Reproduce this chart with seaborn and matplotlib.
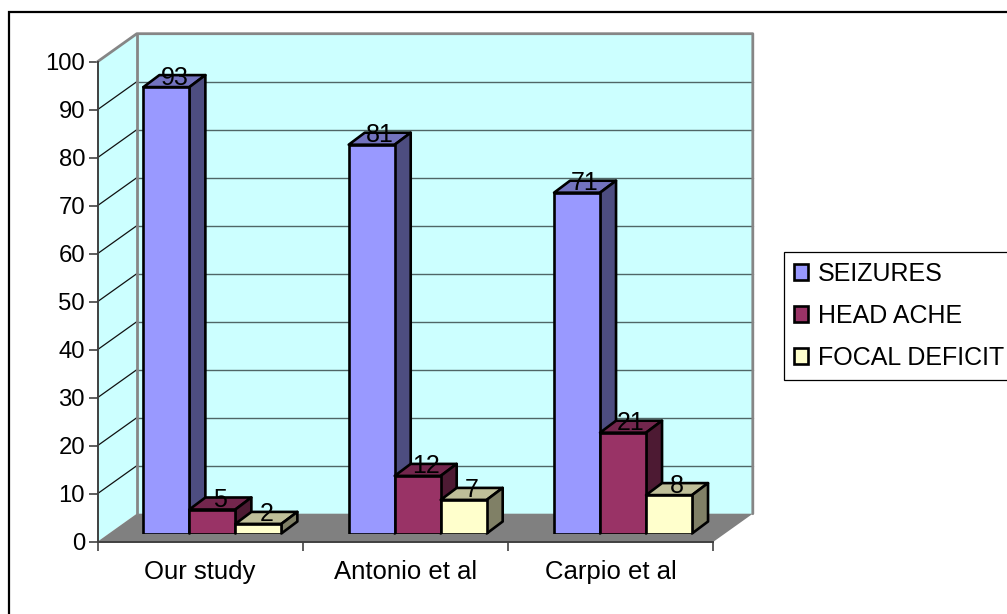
import matplotlib
matplotlib.use("Agg")
import matplotlib.pyplot as plt
from matplotlib.lines import Line2D
from matplotlib.patches import Polygon
from matplotlib.colors import to_rgb
import pandas as pd
import seaborn as sns

studies = ["Our study", "Antonio et al", "Carpio et al"]
seizures = [93, 81, 71]
head_ache = [5, 12, 21]
focal_deficit = [2, 7, 8]
series_names = ["SEIZURES", "HEAD ACHE", "FOCAL DEFICIT"]
series_colors = ["#9999FF", "#993366", "#FFFFCC"]
y_ticks = list(range(0, 101, 10))

W, H = 1007, 614
TICK_FONT = 17.2
CAT_FONT = 18.5
LEGEND_FONT = 18.0
VALUE_FONT = 18.0
EDGE = 1.9

sns.set_theme(style="white")
plt.rcParams["font.family"] = ["Liberation Sans", "DejaVu Sans"]

df = pd.DataFrame({
    "study": studies * 3,
    "series": [n for n in series_names for _ in studies],
    "value": seizures + head_ache + focal_deficit,
})

fig = plt.figure(figsize=(W / 100, H / 100), dpi=100, facecolor="white")


def axes_box(left, top, right, bottom):
    return [left / W, 1 - bottom / H, (right - left) / W, (bottom - top) / H]


# Front plane of the 3-D box carries the axis lines and labels
L, R, T, B = 97.5, 713.5, 61.7, 541.7
ax = fig.add_axes(axes_box(L, T, R, B))
ax.set_xlim(-0.5, 2.5)
ax.set_ylim(0, 100)
ax.patch.set_visible(False)

px_x = (R - L) / 3          # pixels per category
px_y = (B - T) / 100        # pixels per value unit
wall_dx, wall_dy = 39.3 / px_x, 28.0 / px_y   # depth of the box
x0, x1 = -0.5, 2.5

# Left wall, back wall and floor
ax.add_patch(Polygon([(x0, 0), (x0 + wall_dx, wall_dy), (x0 + wall_dx, 100 + wall_dy), (x0, 100)],
                     fc="#CCFFFF", ec="none", clip_on=False, zorder=0))
ax.add_patch(Polygon([(x0 + wall_dx, wall_dy), (x1 + wall_dx, wall_dy), (x1 + wall_dx, 100 + wall_dy),
                      (x0 + wall_dx, 100 + wall_dy)],
                     fc="#CCFFFF", ec="none", clip_on=False, zorder=0))
ax.add_patch(Polygon([(x0, 0), (x0 + wall_dx, wall_dy), (x1 + wall_dx, wall_dy), (x1, 0)],
                     fc="#808080", ec="none", clip_on=False, zorder=1))

# Gridlines wrap from the left wall onto the back wall
for v in y_ticks[1:-1]:
    ax.add_line(Line2D([x0, x0 + wall_dx], [v, v + wall_dy], color="#111111", lw=0.9,
                       clip_on=False, zorder=1))
    ax.add_line(Line2D([x0 + wall_dx, x1 + wall_dx], [v + wall_dy, v + wall_dy], color="#4F6666",
                       lw=1.0, clip_on=False, zorder=1))

# Grey outline of the walls
ax.add_line(Line2D([x0, x0 + wall_dx, x1 + wall_dx, x1 + wall_dx],
                   [100, 100 + wall_dy, 100 + wall_dy, wall_dy],
                   color="#868686", lw=2.0, clip_on=False, zorder=1.5))
ax.add_line(Line2D([x0 + wall_dx, x0 + wall_dx], [wall_dy, 100 + wall_dy],
                   color="#868686", lw=2.0, clip_on=False, zorder=1.5))

for side in ("top", "right"):
    ax.spines[side].set_visible(False)
for side in ("left", "bottom"):
    ax.spines[side].set_color("#404040")
    ax.spines[side].set_linewidth(1.4)
    ax.spines[side].set_zorder(2)

ax.set_yticks(y_ticks)
ax.set_xticks([-0.5, 0.5, 1.5, 2.5])
ax.set_xticklabels([])
ax.set_xticks([0, 1, 2], labels=studies, minor=True)
ax.tick_params(axis="y", which="major", direction="out", length=6.5, width=1.3, color="#505050",
               labelsize=TICK_FONT, labelcolor="black", pad=2.5, left=True)
ax.tick_params(axis="x", which="major", direction="out", length=6.5, width=1.3, color="#505050", bottom=True)
ax.tick_params(axis="x", which="minor", length=0, labelsize=CAT_FONT, labelcolor="black", pad=13, bottom=False)
ax.set_xlabel("")
ax.set_ylabel("")

# Bars stand a little way into the box, so they get their own shifted axes
shift_x, shift_y = 12.2, 8.2
bars_ax = fig.add_axes(axes_box(L + shift_x, T - shift_y, R + shift_x, B - shift_y))
bars_ax.patch.set_visible(False)
sns.barplot(data=df, x="study", y="value", hue="series", hue_order=series_names,
            palette=series_colors, width=0.672, gap=0, dodge=True, saturation=1,
            edgecolor="black", linewidth=EDGE, ax=bars_ax)
bars_ax.set_xlim(-0.5, 2.5)
bars_ax.set_ylim(0, 100)
bars_ax.axis("off")
handles, labels = bars_ax.get_legend_handles_labels()
bars_ax.get_legend().remove()

depth_x, depth_y = 16.0 / px_x, 12.0 / px_y


def shade(color, factor):
    return tuple(c * factor for c in to_rgb(color))


for s, (container, color) in enumerate(zip(bars_ax.containers, series_colors)):
    for c, bar in enumerate(container):
        order = 3 + c * 3 + s * 0.1
        xa, w, v = bar.get_x(), bar.get_width(), bar.get_height()
        xb = xa + w
        bar.set_zorder(order + 0.02)
        bars_ax.add_patch(Polygon([(xa, v), (xb, v), (xb + depth_x, v + depth_y), (xa + depth_x, v + depth_y)],
                                  fc=shade(color, 0.75), ec="black", lw=EDGE, joinstyle="round",
                                  clip_on=False, zorder=order))
        bars_ax.add_patch(Polygon([(xb, 0), (xb + depth_x, depth_y), (xb + depth_x, v + depth_y), (xb, v)],
                                  fc=shade(color, 0.5), ec="black", lw=EDGE, joinstyle="round",
                                  clip_on=False, zorder=order))
        bars_ax.text(xa + w / 2 + depth_x / 2, v + depth_y, f"{v:.0f}", ha="center", va="center_baseline",
                     fontsize=VALUE_FONT, color="black", zorder=20)

leg = fig.legend(handles, labels, loc="upper left", bbox_to_anchor=(783.5 / W, 1 - 252 / H),
                 bbox_transform=fig.transFigure, frameon=True, fancybox=False, framealpha=1,
                 edgecolor="black", facecolor="white", fontsize=LEGEND_FONT, borderaxespad=0,
                 borderpad=0.40, handlelength=0.58, handleheight=0.58, handletextpad=0.38,
                 labelspacing=0.72, labelcolor="black")
leg.get_frame().set_linewidth(0.9)
leg.set_zorder(30)

# Chart frame: only the top and left edges fall inside the image
fig.add_artist(Line2D([8.5 / W, 8.5 / W, 1], [0, 1 - 12 / H, 1 - 12 / H], color="black", lw=1.6,
                      transform=fig.transFigure, solid_joinstyle="miter"))

fig.savefig("out.png", dpi=100, facecolor="white")
